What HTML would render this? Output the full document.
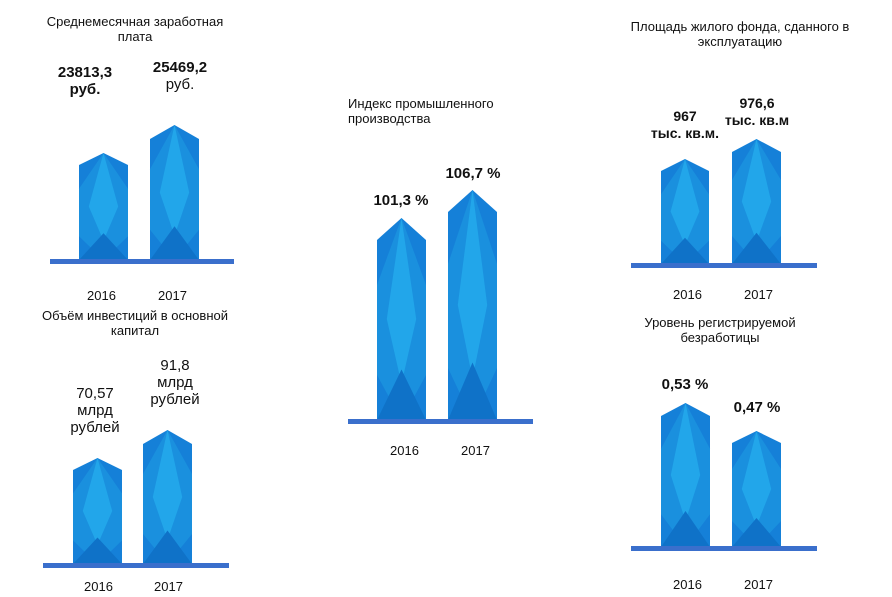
<!DOCTYPE html>
<html><head><meta charset="utf-8"><style>
html,body{margin:0;padding:0;background:#fff}
body{width:892px;height:597px;overflow:hidden;position:relative;font-family:"Liberation Sans","DejaVu Sans",sans-serif}
.t{position:absolute;font-size:13px;color:#111;text-align:center;line-height:15px}
.b{position:absolute;font-size:15px;font-weight:bold;color:#111;text-align:center;line-height:17px}
.n{position:absolute;font-size:15px;color:#111;text-align:center;line-height:17px}
.y{position:absolute;font-size:13px;color:#111}
svg{position:absolute;left:0;top:0}
</style></head><body>
<svg id="s" width="892" height="597"></svg>
<div class="t" style="left:30px;top:14px;width:210px">Среднемесячная заработная плата</div>
<div class="b" style="left:40px;top:64px;width:90px">23813,3<br>руб.</div>
<div class="n" style="left:135px;top:59px;width:90px"><b>25469,2</b><br>руб.</div>
<div class="y" style="left:87px;top:288px">2016</div><div class="y" style="left:158px;top:288px">2017</div>

<div class="t" style="left:30px;top:308px;width:210px">Объём инвестиций в основной капитал</div>
<div class="n" style="left:50px;top:385px;width:90px">70,57<br>млрд<br>рублей</div>
<div class="n" style="left:130px;top:357px;width:90px">91,8<br>млрд<br>рублей</div>
<div class="y" style="left:84px;top:579px">2016</div><div class="y" style="left:154px;top:579px">2017</div>

<div class="t" style="left:336px;top:96px;width:200px;text-align:left;padding-left:12px">Индекс промышленного производства</div>
<div class="b" style="left:356px;top:192px;width:90px">101,3 %</div>
<div class="b" style="left:428px;top:165px;width:90px">106,7 %</div>
<div class="y" style="left:390px;top:443px">2016</div><div class="y" style="left:461px;top:443px">2017</div>

<div class="t" style="left:610px;top:19px;width:260px">Площадь жилого фонда, сданного в эксплуатацию</div>
<div class="b" style="left:640px;top:108px;width:90px;font-size:14px">967<br>тыс. кв.м.</div>
<div class="b" style="left:712px;top:95px;width:90px;font-size:14px">976,6<br>тыс. кв.м</div>
<div class="y" style="left:673px;top:287px">2016</div><div class="y" style="left:744px;top:287px">2017</div>

<div class="t" style="left:630px;top:315px;width:180px">Уровень регистрируемой безработицы</div>
<div class="b" style="left:640px;top:376px;width:90px">0,53 %</div>
<div class="b" style="left:712px;top:399px;width:90px">0,47 %</div>
<div class="y" style="left:673px;top:577px">2016</div><div class="y" style="left:744px;top:577px">2017</div>
<script>
var s=document.getElementById('s'),h='';
function bar(x0,x1,p,off,b){var c=(x0+x1)/2,sh=p+off;
h+='<polygon points="'+x0+','+sh+' '+c+','+p+' '+x1+','+sh+' '+x1+','+b+' '+x0+','+b+'" fill="#1580d8"/>';
var m=(p+b)/2;
h+='<polygon points="'+c+','+p+' '+x1+','+(sh+(b-sh)*0.25)+' '+x1+','+(b-(b-sh)*0.25)+' '+c+','+b+' '+x0+','+(b-(b-sh)*0.25)+' '+x0+','+(sh+(b-sh)*0.25)+'" fill="#1a90de"/>';
h+='<polygon points="'+c+','+p+' '+(c+ (x1-x0)*0.3)+','+m+' '+c+','+(b-(b-p)*0.18)+' '+(c-(x1-x0)*0.3)+','+m+'" fill="#22a6ea"/>';
h+='<polygon points="'+x0+','+b+' '+c+','+(b-(b-p)*0.25)+' '+x1+','+b+'" fill="#0f72c8"/>';}
function base(x0,x1,y){h+='<rect x="'+x0+'" y="'+y+'" width="'+(x1-x0)+'" height="5" fill="#3a6fcc"/>';}
bar(79,128,153,12,260);bar(150,199,125,14,260);base(50,234,259);
bar(377,426,218,22,420);bar(448,497,190,22,420);base(348,533,419);
bar(661,709,159,12,264);bar(732,781,139,13,264);base(631,817,263);
bar(73,122,458,12,564);bar(143,192,430,14,564);base(43,229,563);
bar(661,710,403,13,547);bar(732,781,431,12,547);base(631,817,546);
s.innerHTML=h;
</script>
</body></html>
